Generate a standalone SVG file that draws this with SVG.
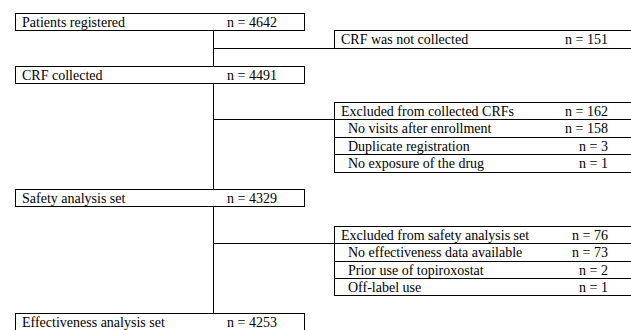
<svg xmlns="http://www.w3.org/2000/svg" width="631" height="330" viewBox="0 0 631 330">
<style>
  .box { fill: #ffffff; stroke: #000000; stroke-width: 1; }
  .line { fill: none; stroke: #000000; stroke-width: 1; }
  text { font-family: "Liberation Serif", "Times New Roman", serif; font-size: 14px; fill: #000000; }
  .num { text-anchor: end; }
</style>
<rect width="631" height="330" fill="#ffffff"/>
<g id="connectors">
  <path class="line" d="M213.5,30.5 V66.5 M213.5,48.5 H334.5"/>
  <path class="line" d="M213.5,83.5 V189.5 M213.5,119.5 H334.5"/>
  <path class="line" d="M213.5,206.5 V313.5 M213.5,243.5 H334.5"/>
</g>
<g id="patients-registered">
  <rect class="box" x="15.5" y="13.5" width="289" height="17"/>
  <text x="22" y="27">Patients registered</text>
  <text class="num" x="277" y="27">n = 4642</text>
</g>
<g id="crf-not-collected">
  <rect class="box" x="334.5" y="30.5" width="297" height="18"/>
  <text x="341" y="44">CRF was not collected</text>
  <text class="num" x="608" y="44">n = 151</text>
</g>
<g id="crf-collected">
  <rect class="box" x="15.5" y="66.5" width="289" height="17"/>
  <text x="22" y="80">CRF collected</text>
  <text class="num" x="277" y="80">n = 4491</text>
</g>
<g id="excluded-crfs">
  <rect class="box" x="334.5" y="102.5" width="297" height="70"/>
  <path class="line" d="M334.5,119.5 H632 M334.5,137.5 H632 M334.5,154.5 H632"/>
  <text x="341" y="116">Excluded from collected CRFs</text>
  <text class="num" x="608" y="116">n = 162</text>
  <text x="348" y="133">No visits after enrollment</text>
  <text class="num" x="608" y="133">n = 158</text>
  <text x="348" y="151">Duplicate registration</text>
  <text class="num" x="608" y="151">n = 3</text>
  <text x="348" y="168">No exposure of the drug</text>
  <text class="num" x="608" y="168">n = 1</text>
</g>
<g id="safety-analysis-set">
  <rect class="box" x="15.5" y="189.5" width="289" height="17"/>
  <text x="22" y="203">Safety analysis set</text>
  <text class="num" x="277" y="203">n = 4329</text>
</g>
<g id="excluded-safety">
  <rect class="box" x="334.5" y="226.5" width="297" height="69"/>
  <path class="line" d="M334.5,243.5 H632 M334.5,261.5 H632 M334.5,278.5 H632"/>
  <text x="341" y="240">Excluded from safety analysis set</text>
  <text class="num" x="608" y="240">n = 76</text>
  <text x="348" y="257">No effectiveness data available</text>
  <text class="num" x="608" y="257">n = 73</text>
  <text x="348" y="275">Prior use of topiroxostat</text>
  <text class="num" x="608" y="275">n = 2</text>
  <text x="348" y="292">Off-label use</text>
  <text class="num" x="608" y="292">n = 1</text>
</g>
<g id="effectiveness-analysis-set">
  <rect class="box" x="15.5" y="313.5" width="289" height="17"/>
  <text x="22" y="327">Effectiveness analysis set</text>
  <text class="num" x="277" y="327">n = 4253</text>
</g>
</svg>
